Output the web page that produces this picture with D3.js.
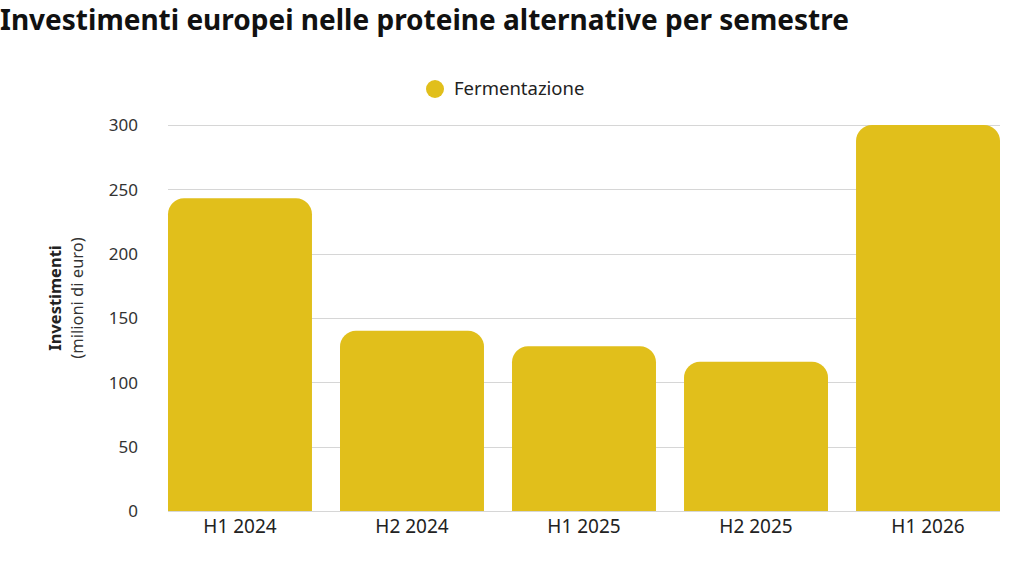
<!DOCTYPE html>
<html lang="it">
<head>
<meta charset="utf-8">
<title>Investimenti europei nelle proteine alternative</title>
<script src="https://d3js.org/d3.v7.min.js"></script>
<style>
  body { margin: 0; background: #fff; }
  text { font-family: "Noto Sans", "Open Sans", sans-serif; fill: #222; }
</style>
</head>
<body>
<script>
  var w = 1024;
  var h = 576;

  // data
  var periods = ["H1 2024", "H2 2024", "H1 2025", "H2 2025", "H1 2026"];
  var fermentazione = [243, 140, 128, 116, 300];
  var yTicks = [0, 50, 100, 150, 200, 250, 300];
  var seriesName = "Fermentazione";
  var barColor = "#e1bf1b";

  var margin = {left: 168, right: 24, top: 125, bottom: 65};

  var svg = d3.select("body")
              .append("svg")
              .attr("width", w)
              .attr("height", h);

  var x = d3.scaleBand()
            .domain(periods)
            .range([margin.left, w - margin.right])
            .paddingInner(0.163)
            .paddingOuter(0);

  var y = d3.scaleLinear()
            .domain([0, 300])
            .range([h - margin.bottom, margin.top]);

  // title
  svg.append("text")
     .attr("x", 0)
     .attr("y", 30)
     .style("font-size", "28px")
     .style("font-weight", "bold")
     .style("fill", "#111")
     .text("Investimenti europei nelle proteine alternative per semestre");

  // grid lines
  svg.append("g")
     .selectAll("line")
     .data(yTicks)
     .enter()
     .append("line")
     .attr("x1", margin.left)
     .attr("x2", w - margin.right)
     .attr("y1", function(d) { return Math.round(y(d)) + 0.5; })
     .attr("y2", function(d) { return Math.round(y(d)) + 0.5; })
     .attr("stroke", "#d6d6d6")
     .attr("stroke-width", 1);

  // y axis labels
  var yAxis = svg.append("g")
                 .attr("transform", "translate(" + (margin.left - 30) + ",0)")
                 .call(d3.axisLeft(y).tickValues(yTicks).tickSize(0).tickPadding(0));
  yAxis.select(".domain").remove();
  yAxis.selectAll("text")
       .style("font-size", "17px")
       .style("fill", "#333")
       .attr("dy", "0.35em");

  // x axis labels
  var xAxis = svg.append("g")
                 .attr("transform", "translate(0," + (h - margin.bottom) + ")")
                 .call(d3.axisBottom(x).tickSize(0).tickPadding(9));
  xAxis.select(".domain").remove();
  xAxis.selectAll("text")
       .style("font-size", "19px")
       .style("fill", "#222");

  // bars with rounded top corners
  var r = 16;
  function barPath(d, i) {
    var x0 = x(periods[i]);
    var x1 = x0 + x.bandwidth();
    var y0 = y(0);
    var y1 = y(d);
    var rr = Math.min(r, (y0 - y1));
    return "M" + x0 + "," + y0 +
           "V" + (y1 + rr) +
           "A" + rr + "," + rr + " 0 0 1 " + (x0 + rr) + "," + y1 +
           "H" + (x1 - rr) +
           "A" + rr + "," + rr + " 0 0 1 " + x1 + "," + (y1 + rr) +
           "V" + y0 + "Z";
  }

  svg.append("g")
     .selectAll("path")
     .data(fermentazione)
     .enter()
     .append("path")
     .attr("d", barPath)
     .attr("fill", barColor);

  // y axis title
  var yTitle = svg.append("text")
                  .attr("transform", "translate(61," + 298 + ") rotate(-90)")
                  .attr("text-anchor", "middle");
  yTitle.append("tspan")
        .attr("x", 0)
        .attr("y", 0)
        .style("font-size", "16.5px")
        .style("font-weight", "bold")
        .text("Investimenti");
  yTitle.append("tspan")
        .attr("x", 0)
        .attr("y", 22)
        .style("font-size", "16.5px")
        .style("fill", "#333")
        .text("(milioni di euro)");

  // legend
  var legend = svg.append("g");
  legend.append("circle")
        .attr("cx", 435)
        .attr("cy", 89)
        .attr("r", 9)
        .attr("fill", barColor);
  legend.append("text")
        .attr("x", 454)
        .attr("y", 89)
        .attr("dy", "0.35em")
        .style("font-size", "18.5px")
        .text(seriesName);
</script>
</body>
</html>
